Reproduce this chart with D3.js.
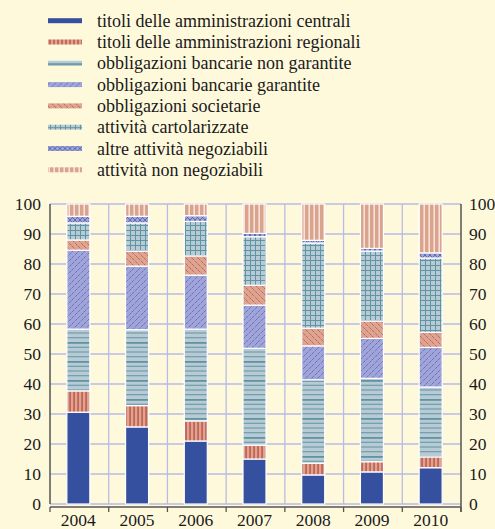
<!DOCTYPE html>
<html>
<head>
<meta charset="utf-8">
<script src="https://cdn.jsdelivr.net/npm/d3@7"></script>
<style>
  body { margin: 0; background: #fff9dc; }
  svg { display: block; }
  svg text { fill: #1a1a1a; font-family: "Liberation Serif", "Times New Roman", Times, "DejaVu Serif", serif; }
</style>
</head>
<body>
<div id="chart"></div>
<script>
// categories and series (percent of total)
var years = ["2004", "2005", "2006", "2007", "2008", "2009", "2010"];
var seriesNames = [
    "titoli delle amministrazioni centrali",
    "titoli delle amministrazioni regionali",
    "obbligazioni bancarie non garantite",
    "obbligazioni bancarie garantite",
    "obbligazioni societarie",
    "attività cartolarizzate",
    "altre attività negoziabili",
    "attività non negoziabili"
];
var centrali      = [30.6, 25.7, 21.0, 15.0,  9.7, 10.7, 12.1];
var regionali     = [ 7.1,  7.1,  6.7,  4.6,  3.9,  3.4,  3.6];
var nonGarantite  = [20.6, 25.3, 30.6, 32.3, 27.8, 27.8, 23.3];
var garantite     = [26.3, 21.2, 18.0, 14.4, 11.3, 13.3, 13.2];
var societarie    = [ 3.4,  5.0,  6.4,  6.6,  5.9,  5.8,  5.0];
var cartolarizz   = [ 5.7,  9.4, 11.5, 16.2, 28.4, 23.3, 24.8];
var altre         = [ 2.2,  2.2,  1.9,  1.1,  0.9,  0.9,  1.7];
var nonNegoz      = [ 4.1,  4.1,  3.9,  9.8, 12.1, 14.8, 16.3];
var yTicks = [0, 10, 20, 30, 40, 50, 60, 70, 80, 90, 100];

var allSeries = [centrali, regionali, nonGarantite, garantite, societarie, cartolarizz, altre, nonNegoz];
var keys = d3.range(seriesNames.length).map(String);
var table = years.map(function (y, i) {
    var row = { year: y };
    allSeries.forEach(function (s, k) { row[k] = s[i]; });
    return row;
});

var svgW = 495, svgH = 529;
var plotL = 50, plotR = 461, plotT = 204, plotB = 504;

var svg = d3.select("#chart").append("svg")
    .attr("width", svgW)
    .attr("height", svgH);

// fill patterns
var defs = svg.append("defs");
function pattern(id, w, h) {
    return defs.append("pattern").attr("id", id)
        .attr("patternUnits", "userSpaceOnUse")
        .attr("width", w).attr("height", h);
}
var p;
// regionali: salmon with red vertical stripes
p = pattern("pReg", 4, 4);
p.append("rect").attr("width", 4).attr("height", 4).attr("fill", "#dba592");
p.append("rect").attr("x", 1.5).attr("width", 1.1).attr("height", 4).attr("fill", "#b8392c");
// non garantite: grey-blue with horizontal teal lines
p = pattern("pNonGar", 6, 19);
p.append("rect").attr("width", 6).attr("height", 19).attr("fill", "#b8cbd4");
[0, 4.75, 9.5, 14.25].forEach(function (yy, i) {
    p.append("rect").attr("y", yy).attr("width", 6).attr("height", i === 0 ? 1.8 : 1)
        .attr("fill", "#5f94a2");
});
// garantite: lavender with dotted blue diagonal
p = pattern("pGar", 6, 6);
p.append("rect").attr("width", 6).attr("height", 6).attr("fill", "#a0a4d8");
p.append("path").attr("d", "M0,6 L6,0 M-1,1 L1,-1 M5,7 L7,5")
    .attr("stroke", "#3f55a8").attr("stroke-width", 0.9).attr("stroke-dasharray", "1,1");
// societarie: salmon with dotted red diagonal
p = pattern("pSoc", 6, 6);
p.append("rect").attr("width", 6).attr("height", 6).attr("fill", "#dba592");
p.append("path").attr("d", "M0,0 L6,6 M-1,5 L1,7 M5,-1 L7,1")
    .attr("stroke", "#c0392b").attr("stroke-width", 0.9).attr("stroke-dasharray", "1,1");
// cartolarizzate: grey-blue with teal grid
p = pattern("pCart", 5, 5);
p.append("rect").attr("width", 5).attr("height", 5).attr("fill", "#b8cbd4");
p.append("rect").attr("width", 5).attr("height", 1).attr("fill", "#5f94a2");
p.append("rect").attr("width", 1).attr("height", 5).attr("fill", "#5f94a2");
// altre: lavender crosshatch
p = pattern("pAltre", 5, 5);
p.append("rect").attr("width", 5).attr("height", 5).attr("fill", "#a0a4d8");
p.append("path").attr("d", "M0,0 L5,5 M5,0 L0,5")
    .attr("stroke", "#4d5fa8").attr("stroke-width", 0.8);
// non negoziabili: salmon with light vertical gaps
p = pattern("pNonNeg", 5, 5);
p.append("rect").attr("width", 5).attr("height", 5).attr("fill", "#d9a38e");
p.append("rect").attr("x", 3.4).attr("width", 1.6).attr("height", 5).attr("fill", "#f6e2d6");

var fills = ["#34509e", "url(#pReg)", "url(#pNonGar)", "url(#pGar)",
             "url(#pSoc)", "url(#pCart)", "url(#pAltre)", "url(#pNonNeg)"];

// scales
var x = d3.scaleBand().domain(years).range([plotL, plotR]);
var y = d3.scaleLinear().domain([0, 100]).range([plotB, plotT]);
var barW = 23;

// grid
var grid = svg.append("g").attr("stroke", "#b9bbe4").attr("stroke-width", 1.3);
grid.selectAll(".hg").data(yTicks).enter().append("line")
    .attr("x1", plotL).attr("x2", plotR)
    .attr("y1", function (d) { return y(d); }).attr("y2", function (d) { return y(d); });
grid.selectAll(".vg").data(years.slice(1)).enter().append("line")
    .attr("x1", function (d) { return x(d); }).attr("x2", function (d) { return x(d); })
    .attr("y1", plotT).attr("y2", plotB);

// stacked bars
var stacked = d3.stack().keys(keys)(table);
svg.append("g").selectAll("g").data(stacked).enter().append("g")
    .attr("fill", function (d, i) { return fills[i]; })
    .selectAll("rect").data(function (d) { return d; }).enter().append("rect")
    .attr("x", function (d) { return x(d.data.year) + (x.bandwidth() - barW) / 2 - 1; })
    .attr("width", barW)
    .attr("y", function (d) { return y(d[1]); })
    .attr("height", function (d) { return y(d[0]) - y(d[1]); })
    .attr("stroke", "#ffffff").attr("stroke-width", 1.2);

// axes lines
var axisCol = "#555555";
svg.append("line").attr("x1", plotL).attr("x2", plotL).attr("y1", plotT).attr("y2", plotB)
    .attr("stroke", axisCol).attr("stroke-width", 1.5);
svg.append("line").attr("x1", plotR).attr("x2", plotR).attr("y1", plotT).attr("y2", plotB + 8)
    .attr("stroke", axisCol).attr("stroke-width", 1.5);

var xAxis = d3.axisBottom(x).tickSize(0).tickFormat("");
var xg = svg.append("g").attr("transform", "translate(0," + (plotB + 3) + ")").call(xAxis);
xg.select(".domain").attr("stroke", axisCol).attr("stroke-width", 1.3)
    .attr("d", "M" + plotL + ",0H" + plotR);
xg.selectAll(".bnd").data(years.map(function (d) { return x(d); }).concat([plotR]))
    .enter().append("line")
    .attr("x1", function (d) { return d; }).attr("x2", function (d) { return d; })
    .attr("y1", 0).attr("y2", 5)
    .attr("stroke", axisCol).attr("stroke-width", 1.3);

// year labels
svg.append("g").selectAll("text").data(years).enter().append("text")
    .attr("x", function (d) { return x(d) + x.bandwidth() / 2 - 1; })
    .attr("y", 526)
    .attr("text-anchor", "middle")
    .style("font-size", "17.5px")
    .text(function (d) { return d; });

// y labels both sides
var yl = svg.append("g").style("font-size", "17.5px");
yl.selectAll(".l").data(yTicks).enter().append("text")
    .attr("x", 41).attr("y", function (d) { return y(d); })
    .attr("dy", "0.34em").attr("text-anchor", "end")
    .text(function (d) { return d; });
yl.selectAll(".r").data(yTicks).enter().append("text")
    .attr("x", 469).attr("y", function (d) { return y(d); })
    .attr("dy", "0.34em").attr("text-anchor", "start")
    .text(function (d) { return d; });

// legend
var legend = svg.append("g").selectAll("g").data(seriesNames).enter().append("g")
    .attr("transform", function (d, i) { return "translate(0," + (20.7 + i * 21.3) + ")"; });
legend.append("rect")
    .attr("x", 48).attr("y", -2.5).attr("width", 34).attr("height", 5)
    .attr("fill", function (d, i) { return fills[i]; });
legend.append("text")
    .attr("x", 97).attr("y", 0).attr("dy", "0.34em")
    .style("font-size", "18px")
    .text(function (d) { return d; });
</script>
</body>
</html>
